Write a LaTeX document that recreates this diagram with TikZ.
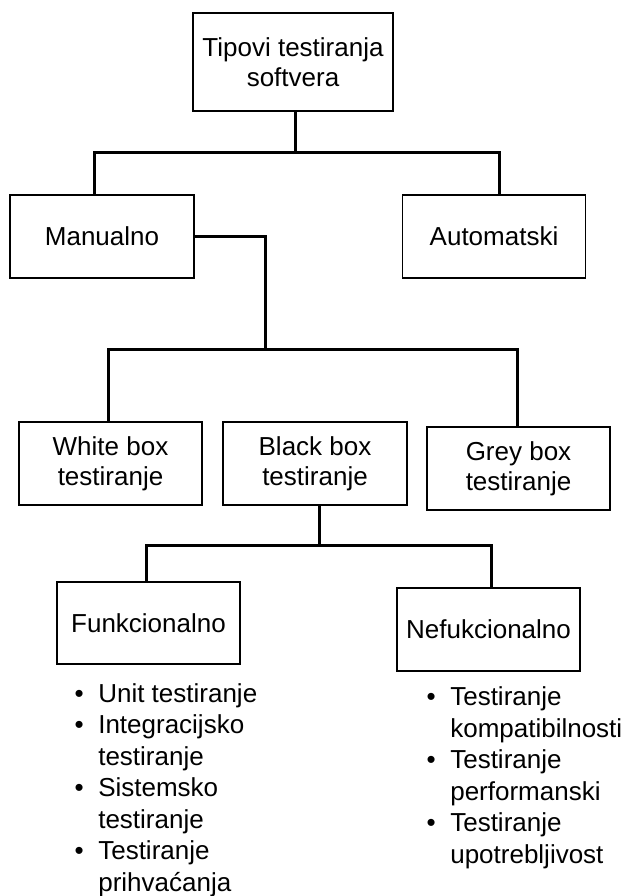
\documentclass[tikz,border=0pt]{standalone}
\usepackage{fontspec}
\setmainfont{Liberation Sans}
\begin{document}
\begin{tikzpicture}[x=1pt,y=-1pt,
  box/.style={draw=black, line width=1.5pt, fill=white, inner sep=0pt, align=center,
    font=\fontsize{26}{30}\selectfont},
  conn/.style={draw=black, line width=3pt, line join=miter},
  lst/.style={inner sep=0pt, anchor=base west, font=\fontsize{26}{31.5}\selectfont}]
\useasboundingbox (0,0) rectangle (625,896);
\fill[white] (0,0) rectangle (625,896);

% boxes
\node[box, minimum width=200pt, minimum height=98pt] (top) at (293,62) {Tipovi testiranja\\softvera};
\node[box, minimum width=184pt, minimum height=83pt] (man) at (102,236.5) {Manualno};
\node[box, minimum width=183pt, minimum height=83pt] (aut) at (494,236.5) {Automatski};
\node[box, minimum width=183pt, minimum height=83pt] (white) at (110.5,463.5) {White box\\testiranje};
\node[box, minimum width=184pt, minimum height=83pt] (black) at (315,463.5) {Black box\\testiranje};
\node[box, minimum width=183pt, minimum height=83pt] (grey) at (518.5,468.5) {Grey box\\testiranje};
\node[box, minimum width=183pt, minimum height=82pt] (funk) at (148.5,623) {Funkcionalno};
\node[box, minimum width=183pt, minimum height=83pt] (nef) at (488.5,629.5) {Nefukcionalno};

% junction points
\coordinate (t1) at (295,153);
\coordinate (m1) at (94,153);
\coordinate (a1) at (499,153);
\coordinate (m2) at (265,349);
\coordinate (w1) at (108,349);
\coordinate (g1) at (517,349);
\coordinate (b1) at (319,545);
\coordinate (f1) at (146,545);
\coordinate (n1) at (491,545);

% connectors
\draw[conn] (top.south -| t1) -- (t1);
\draw[conn] (man.north -| m1) -- (m1) -- (a1) -- (aut.north -| a1);
\draw[conn] (man.east) -| (m2);
\draw[conn] (white.north -| w1) -- (w1) -- (g1) -- (grey.north -| g1);
\draw[conn] (black.south -| b1) -- (b1);
\draw[conn] (funk.north -| f1) -- (f1) -- (n1) -- (nef.north -| n1);

% bullet lists
\node[lst] (flist) at (74.5,702) {\begin{tabular}[t]{@{}c@{\hspace{14.5pt}}l@{}}
\textbullet & Unit testiranje\\
\textbullet & Integracijsko\\
 & testiranje\\
\textbullet & Sistemsko\\
 & testiranje\\
\textbullet & Testiranje\\
 & prihvaćanja
\end{tabular}};
\node[lst] (nlist) at (426.5,705.5) {\begin{tabular}[t]{@{}c@{\hspace{14.5pt}}l@{}}
\textbullet & Testiranje\\
 & kompatibilnosti\\
\textbullet & Testiranje\\
 & performanski\\
\textbullet & Testiranje\\
 & upotrebljivost
\end{tabular}};
\end{tikzpicture}
\end{document}
